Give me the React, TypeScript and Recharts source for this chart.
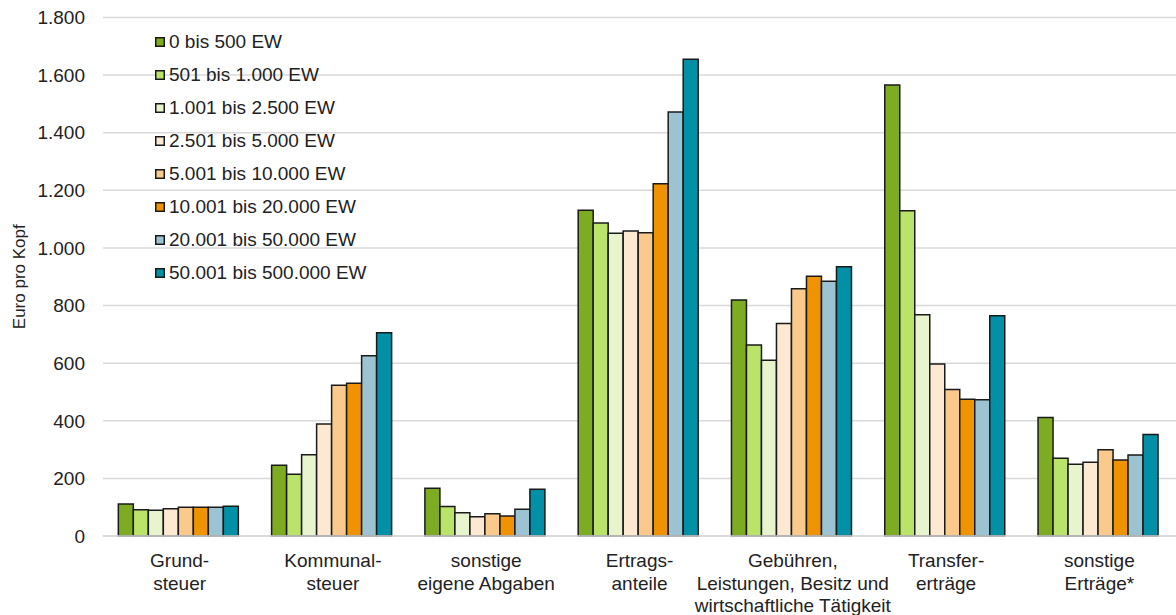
import React from "react";
import {
  BarChart,
  Bar,
  XAxis,
  YAxis,
  CartesianGrid,
  Legend,
} from "recharts";

const FONT = '"Liberation Sans", Arial, sans-serif';

const categories = [
  "Grund-\nsteuer",
  "Kommunal-\nsteuer",
  "sonstige\neigene Abgaben",
  "Ertrags-\nanteile",
  "Gebühren,\nLeistungen, Besitz und\nwirtschaftliche Tätigkeit",
  "Transfer-\nerträge",
  "sonstige\nErträge*",
];

const seriesNames = [
  "0 bis 500 EW",
  "501 bis 1.000 EW",
  "1.001 bis 2.500 EW",
  "2.501 bis 5.000 EW",
  "5.001 bis 10.000 EW",
  "10.001 bis 20.000 EW",
  "20.001 bis 50.000 EW",
  "50.001 bis 500.000 EW",
];

const seriesColors = [
  "#7dab22",
  "#bae36a",
  "#e7f4cd",
  "#fde8d2",
  "#f9ca8b",
  "#f09300",
  "#9cc3d2",
  "#0190a5",
];

// Euro pro Kopf, one entry per category
const ew0to500 = [111, 246, 166, 1131, 819, 1566, 411];
const ew501to1000 = [91, 214, 102, 1087, 663, 1129, 270];
const ew1001to2500 = [89, 282, 81, 1051, 610, 768, 249];
const ew2501to5000 = [95, 389, 67, 1059, 738, 597, 256];
const ew5001to10000 = [100, 523, 77, 1053, 858, 509, 299];
const ew10001to20000 = [100, 530, 69, 1223, 902, 475, 264];
const ew20001to50000 = [100, 626, 93, 1472, 884, 473, 281];
const ew50001to500000 = [103, 706, 162, 1655, 935, 765, 352];

const seriesValues = [
  ew0to500,
  ew501to1000,
  ew1001to2500,
  ew2501to5000,
  ew5001to10000,
  ew10001to20000,
  ew20001to50000,
  ew50001to500000,
];

const yTicks = [0, 200, 400, 600, 800, 1000, 1200, 1400, 1600, 1800];

const data = categories.map((name, i) => {
  const row: Record<string, string | number> = { name };
  seriesValues.forEach((vals, s) => {
    row[`s${s}`] = vals[i];
  });
  return row;
});

const fmt = (v: number) => String(v).replace(/\B(?=(\d{3})+(?!\d))/g, ".");

function CategoryTick({ x, y, payload }: any) {
  const lines = String(payload.value).split("\n");
  return (
    <text
      x={x}
      y={y + 31}
      textAnchor="middle"
      fill="#222"
      fontSize={19}
      fontFamily={FONT}
    >
      {lines.map((line, i) => (
        <tspan key={i} x={x} dy={i === 0 ? 0 : 22.5}>
          {line}
        </tspan>
      ))}
    </text>
  );
}

function SizeLegend() {
  return (
    <div style={{ fontFamily: FONT, fontSize: 19, color: "#222" }}>
      {seriesNames.map((name, i) => (
        <div
          key={name}
          style={{
            height: 33,
            display: "flex",
            alignItems: "center",
            whiteSpace: "nowrap",
          }}
        >
          <svg width={10} height={10} style={{ flexShrink: 0, marginRight: 4 }}>
            <rect
              x={0.75}
              y={0.75}
              width={8.5}
              height={8.5}
              fill={seriesColors[i]}
              stroke="#1a1a1a"
              strokeWidth={1.5}
            />
          </svg>
          <span>{name}</span>
        </div>
      ))}
    </div>
  );
}

export default function App() {
  return (
    <div style={{ position: "absolute", left: 0, top: 0 }}>
      <BarChart
        width={1176}
        height={615}
        data={data}
        barGap={0}
        barCategoryGap="10%"
        margin={{ top: 17.5, right: 0, left: 0, bottom: 0 }}
      >
        <CartesianGrid
          horizontal
          vertical={false}
          stroke="#d9d9d9"
          strokeWidth={1.5}
        />
        <XAxis
          dataKey="name"
          interval={0}
          tick={<CategoryTick />}
          tickLine={false}
          tickSize={0}
          tickMargin={0}
          axisLine={{ stroke: "#d9d9d9", strokeWidth: 1.5 }}
          height={79}
        />
        <YAxis
          width={103}
          domain={[0, 1800]}
          ticks={yTicks}
          interval={0}
          tickFormatter={fmt}
          axisLine={false}
          tickLine={false}
          tickSize={0}
          tickMargin={18}
          tick={{ fill: "#222", fontSize: 19, fontFamily: FONT }}
          label={{
            value: "Euro pro Kopf",
            angle: -90,
            position: "center",
            dx: -33,
            fill: "#222",
            fontSize: 17,
            fontFamily: FONT,
          }}
        />
        <Legend
          layout="vertical"
          align="center"
          verticalAlign="middle"
          content={() => <SizeLegend />}
          wrapperStyle={{ left: 155, top: 25, width: 280 }}
        />
        {seriesNames.map((name, s) => (
          <Bar
            key={name}
            dataKey={`s${s}`}
            name={name}
            fill={seriesColors[s]}
            stroke="#1a1a1a"
            strokeWidth={1.5}
            isAnimationActive={false}
          />
        ))}
      </BarChart>
    </div>
  );
}
